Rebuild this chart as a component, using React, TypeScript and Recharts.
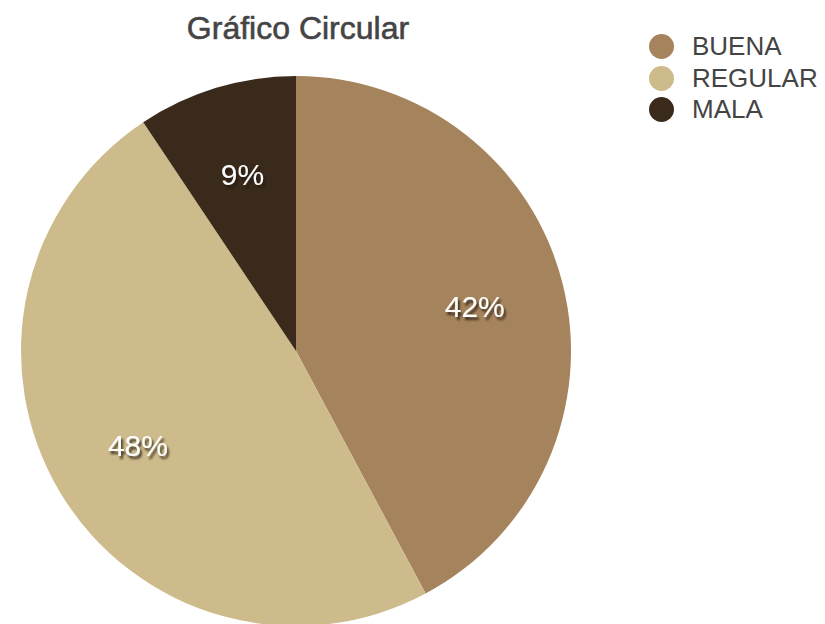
import React from 'react';
import { PieChart, Pie, Cell, Legend } from 'recharts';

const categories = ['BUENA', 'REGULAR', 'MALA'];
const counts = [27, 31, 6];
const colors = ['#a5835c', '#cebb8b', '#3a2a1c'];

const data = categories.map((name, i) => ({ name, value: counts[i] }));

const RAD = Math.PI / 180;
const FONT = 'Liberation Sans, Arial, sans-serif';

const renderLabel = (props: any) => {
  const { cx, cy, midAngle, outerRadius, percent } = props;
  const r = outerRadius * 0.67;
  const x = cx + r * Math.cos(-midAngle * RAD);
  const y = cy + r * Math.sin(-midAngle * RAD);
  return (
    <text
      x={x}
      y={y}
      fill="#ffffff"
      textAnchor="middle"
      dominantBaseline="central"
      fontSize={30}
      fontFamily={FONT}
      filter="url(#lblShadow)"
    >
      {`${Math.round(percent * 100)}%`}
    </text>
  );
};

// keep the order of the data, not sorted
const LegendContent = () => (
  <div style={{ fontFamily: FONT }}>
    {categories.map((c, i) => (
      <div key={c} style={{ display: 'flex', alignItems: 'center', height: 31.5 }}>
        <span style={{ width: 25, height: 25, borderRadius: '50%', background: colors[i], display: 'inline-block', marginRight: 18 }} />
        <span style={{ fontSize: 26, color: '#444' }}>{c}</span>
      </div>
    ))}
  </div>
);

export default function App() {
  return (
    <div style={{ position: 'absolute', left: 0, top: 0, width: 825, height: 624, background: '#fff', overflow: 'hidden' }}>
      <PieChart width={825} height={624} margin={{ top: 0, right: 0, bottom: 0, left: 0 }}>
        <defs>
          <filter id="lblShadow" x="-20%" y="-20%" width="140%" height="160%">
            <feDropShadow dx={2} dy={3} stdDeviation={1} floodColor="#24180c" floodOpacity={0.8} />
          </filter>
        </defs>
        <text x={298} y={39} textAnchor="middle" fontSize={32} fill="#444" stroke="#444" strokeWidth={0.6} fontFamily={FONT}>
          Gráfico Circular
        </text>
        <Pie
          data={data}
          dataKey="value"
          nameKey="name"
          cx={296}
          cy={351}
          outerRadius={275}
          startAngle={90}
          endAngle={-270}
          stroke="none"
          label={renderLabel}
          labelLine={false}
          isAnimationActive={false}
        >
          {data.map((d, i) => (
            <Cell key={d.name} fill={colors[i]} />
          ))}
        </Pie>
        <Legend content={<LegendContent />} wrapperStyle={{ position: 'absolute', left: 649, top: 31, width: 180 }} />
      </PieChart>
    </div>
  );
}
